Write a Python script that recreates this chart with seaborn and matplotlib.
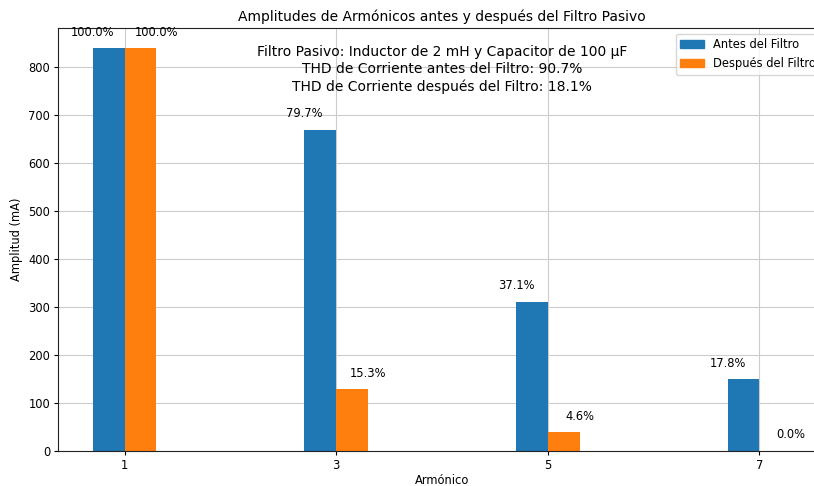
import matplotlib
matplotlib.use("Agg")
import matplotlib.pyplot as plt
from matplotlib.patches import Patch
import seaborn as sns
import pandas as pd

harmonics = [1, 3, 5, 7]
before_ma = [840.0, 669.5, 311.6, 149.5]
after_ma = [840.0, 128.5, 38.6, 0.0]
before_pct = ["100.0%", "79.7%", "37.1%", "17.8%"]
after_pct = ["100.0%", "15.3%", "4.6%", "0.0%"]
series_names = ["Antes del Filtro", "Después del Filtro"]

df = pd.DataFrame({
    "Armónico": harmonics * 2,
    "Amplitud": before_ma + after_ma,
    "Serie": [series_names[0]] * 4 + [series_names[1]] * 4,
})

sns.set_style("ticks")
plt.rcParams["font.family"] = ["DejaVu Sans"]
plt.rcParams["font.size"] = 8.3
plt.rcParams["text.color"] = "black"
plt.rcParams["axes.labelcolor"] = "black"
plt.rcParams["xtick.color"] = "black"
plt.rcParams["ytick.color"] = "black"

fig = plt.figure(figsize=(8.14, 4.86), dpi=100)
ax = fig.add_axes([58 / 814, 1 - 451 / 486, 768 / 814, 423 / 486])

sns.barplot(data=df, x="Armónico", y="Amplitud", hue="Serie",
            native_scale=True, width=0.3, palette=["#1f77b4", "#ff7f0e"],
            saturation=1, linewidth=0, ax=ax, legend=False)

w = 0.3
for i, h in enumerate(harmonics):
    ax.text(h - w, before_ma[i] + 20, before_pct[i], ha="center", va="bottom", fontsize=8.3)
    ax.text(h + w, after_ma[i] + 20, after_pct[i], ha="center", va="bottom", fontsize=8.3)

ax.set_xticks(harmonics)
ax.set_xticklabels([str(h) for h in harmonics])
ax.set_yticks(range(0, 900, 100))
ax.margins(x=0.05, y=0.05)
ax.autoscale()
ax.tick_params(length=3, width=0.8, pad=2.5, labelsize=8.3)
ax.grid(True, color="#cccccc", linewidth=0.8)
ax.set_axisbelow(True)
for s in ax.spines.values():
    s.set_visible(True)
    s.set_color("#222222")
    s.set_linewidth(0.8)

ax.set_title("Amplitudes de Armónicos antes y después del Filtro Pasivo", fontsize=10, pad=5)
ax.set_xlabel("Armónico", fontsize=8.3, labelpad=2)
ax.set_ylabel("Amplitud (mA)", fontsize=8.3, labelpad=4)

ax.text(0.5, 0.96,
        "Filtro Pasivo: Inductor de 2 mH y Capacitor de 100 µF\n"
        "THD de Corriente antes del Filtro: 90.7%\n"
        "THD de Corriente después del Filtro: 18.1%",
        transform=ax.transAxes, ha="center", va="top", fontsize=10, linespacing=1.3)

handles = [Patch(color="#1f77b4"), Patch(color="#ff7f0e")]
ax.legend(handles, series_names, loc="upper right", fontsize=8.3, framealpha=0.8)

fig.savefig("out.png", dpi=100)
